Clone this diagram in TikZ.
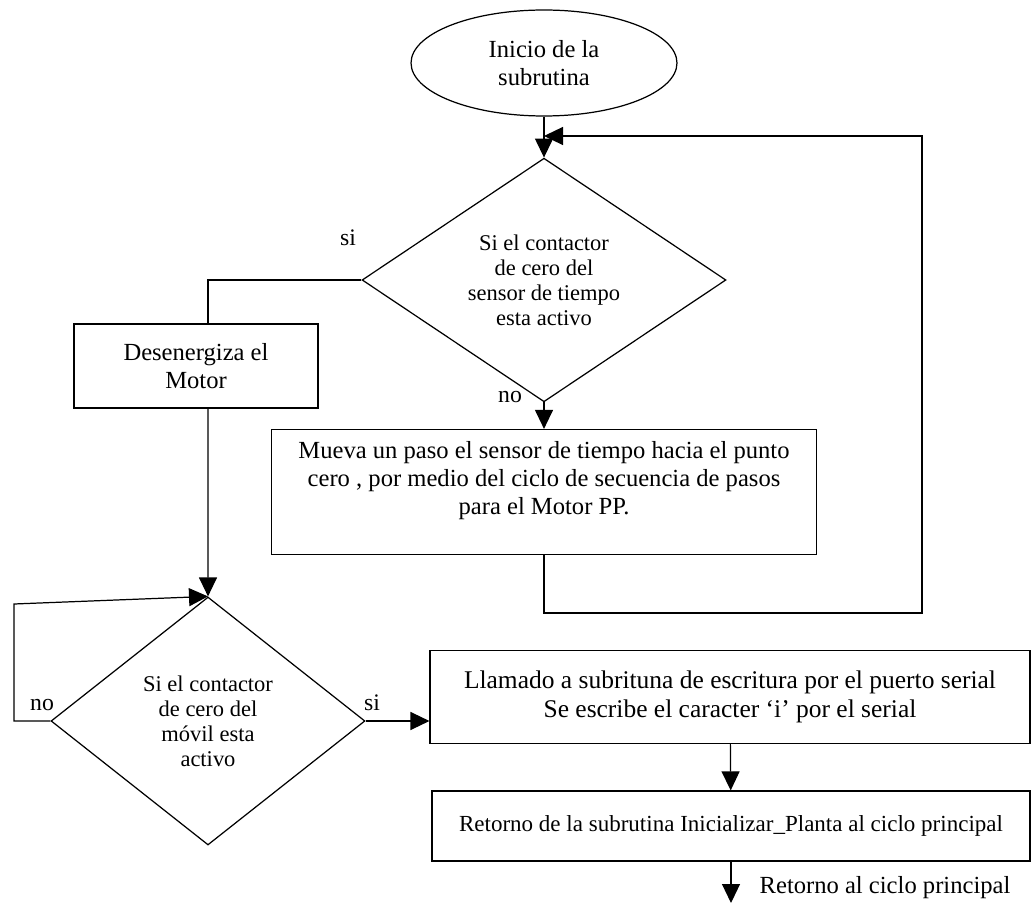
\documentclass[tikz,border=0pt]{standalone}
\usepackage{fontspec}
\setmainfont{Liberation Serif}
\usetikzlibrary{positioning,arrows.meta,shapes.geometric}

\begin{document}
\begin{tikzpicture}[
  x=0.02cm, y=-0.02cm,
  font=\fontsize{14}{16}\selectfont,
  line width=0.7pt,
  proc/.style={draw, rectangle, align=center, inner sep=0pt},
  decision/.style={draw, diamond, align=center, inner sep=0pt,
                   font=\fontsize{12.8}{14.3}\selectfont},
  startnode/.style={draw, ellipse, align=center, inner sep=0pt},
  tag/.style={inner sep=0pt, font=\fontsize{13.5}{15}\selectfont},
  arr/.style={-{Triangle[length=3.8mm,width=3.6mm]}},
]

% --- Frame ---
\useasboundingbox (0,0) rectangle (1031,905);

% --- Start and first test ---
\node[startnode, minimum width=5.32cm, minimum height=2.12cm] (inicio) at (544,63) {Inicio de la\\subrutina};
\node[decision, minimum width=7.28cm, minimum height=4.52cm] (dec1) at (544,280) {Si el contactor\\de cero del\\sensor de tiempo\\esta activo};
\node[tag] (si1) at (348,238) {si};
\node[tag] (no1) at (510,397) {no};

% --- Branches of the first test ---
\node[proc, minimum width=4.88cm, minimum height=1.68cm] (motor) at (196,366) {Desenergiza el\\Motor};
\node[proc, minimum width=10.9cm, minimum height=2.5cm] (paso) at (544,492) {Mueva un paso el sensor de tiempo hacia el punto\\cero , por medio del ciclo de secuencia de pasos\\para el Motor PP.\\~};

% --- Second test ---
\node[decision, minimum width=6.28cm, minimum height=4.96cm] (dec2) at (208,721) {Si el contactor\\de cero del\\móvil esta\\activo};
\node[tag] (no2) at (42,705) {no};
\node[tag] (si2) at (372,703) {si};

% --- Output ---
\node[proc, minimum width=12cm, minimum height=1.86cm, font=\fontsize{14.5}{16.5}\selectfont] (serie) at (730,697) {Llamado a subrituna de escritura por el puerto serial\\Se escribe el caracter ‘i’ por el serial};
\node[proc, minimum width=11.96cm, minimum height=1.4cm, font=\fontsize{13.1}{14.6}\selectfont] (retorno) at (731,826) {Retorno de la subrutina Inicializar\_Planta al ciclo principal};
\coordinate (fin) at (731,903);
\node[tag, font=\fontsize{14}{16}\selectfont] (finlbl) at (885,888) {Retorno al ciclo principal};

% --- Loop corners ---
\coordinate (lpB) at (922,613);
\coordinate (lpT) at (922,136);
\coordinate (noB) at (14,721);
\coordinate (noT) at (14,604);

% --- Edges ---
\draw[arr] (inicio) -- (dec1);
\draw[arr] (dec1) -- (paso);
\draw[arr] (paso.south) |- (lpB) -- (lpT) -- (inicio.south |- lpT);
\draw (dec1.west) -| ([xshift=2.4mm]motor.north);
\draw[arr] ([xshift=2.4mm]motor.south) -- (dec2.north);
\draw[arr] (dec2.west) -- (noB) -- (noT) -- (dec2.north);
\draw[arr] (dec2.east) -- (dec2.east -| serie.west);
\draw[arr] (serie) -- (retorno);
\draw[arr] (retorno) -- (fin);

\end{tikzpicture}
\end{document}
